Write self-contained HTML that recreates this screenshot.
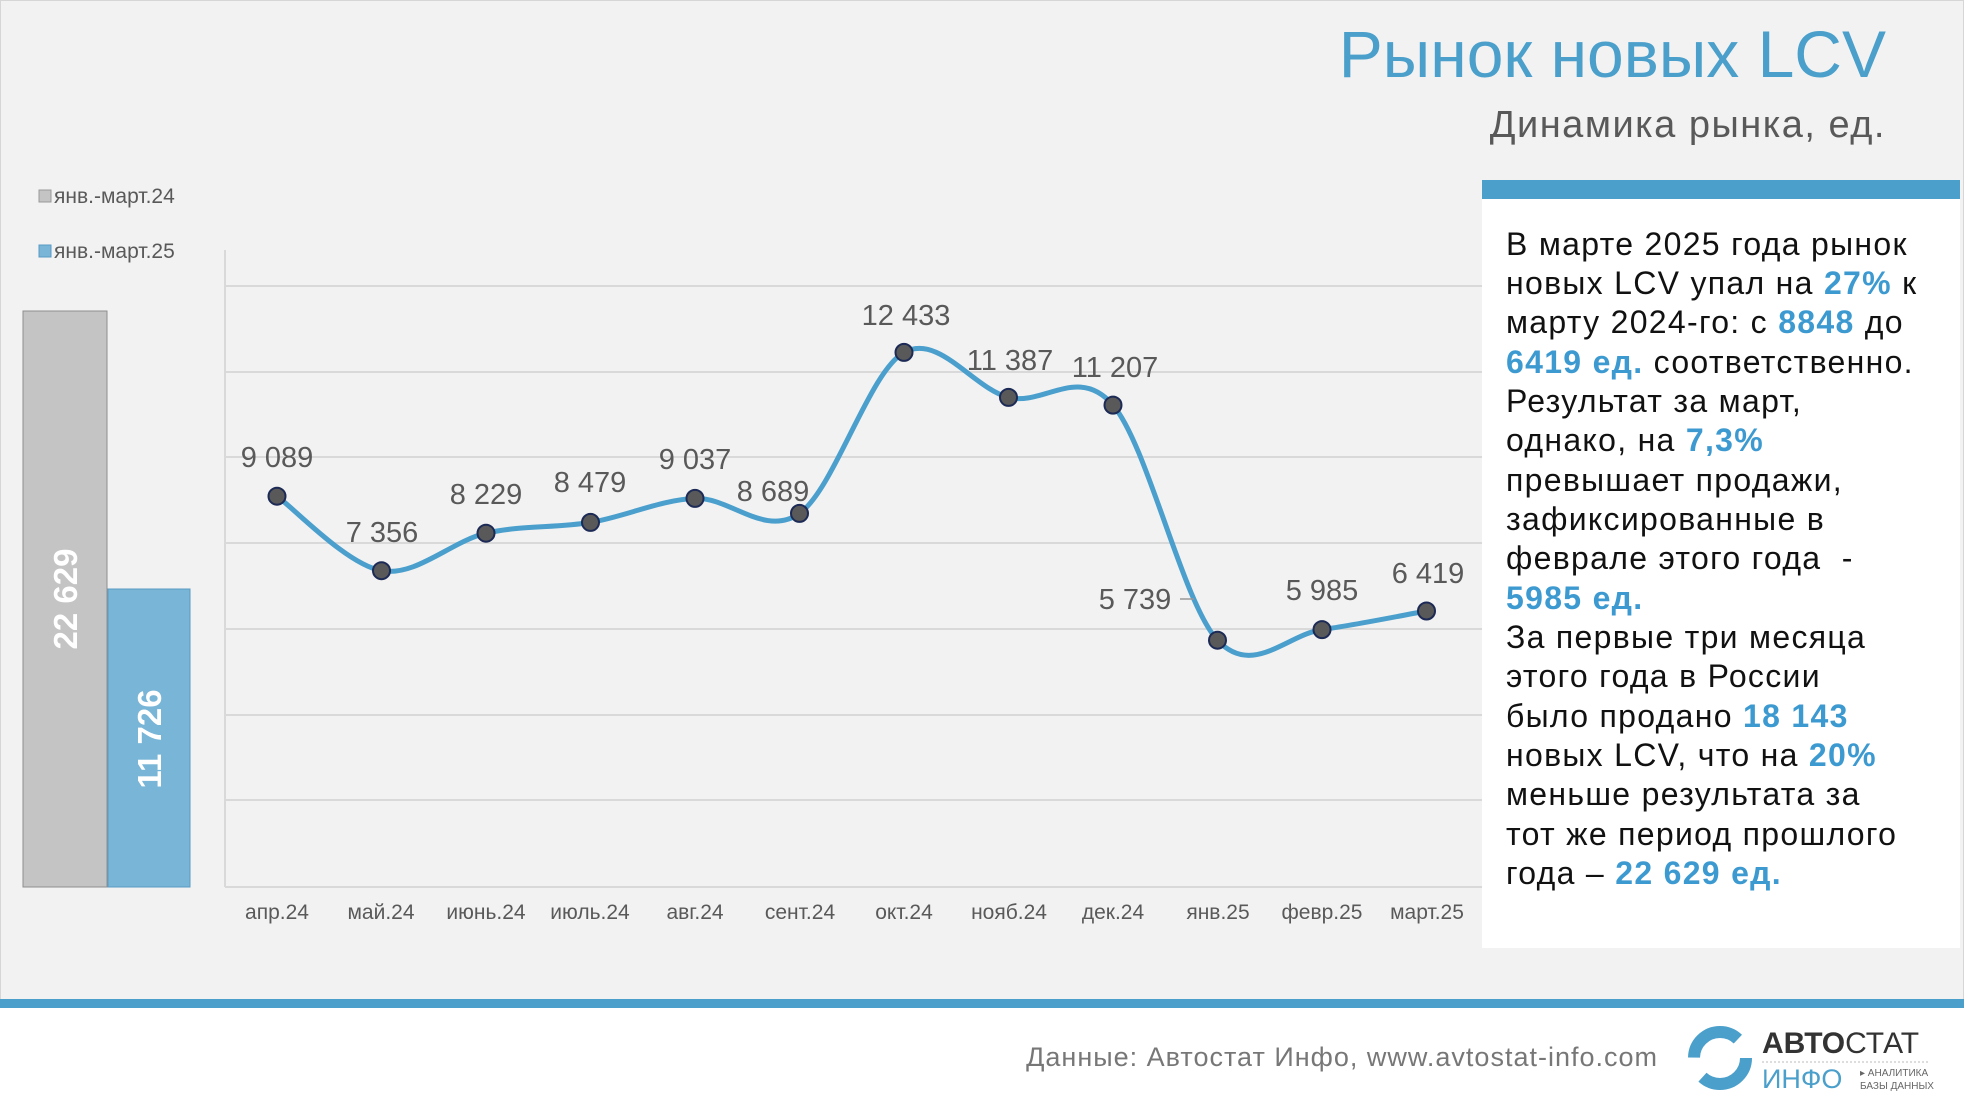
<!DOCTYPE html>
<html><head><meta charset="utf-8">
<style>
html,body{margin:0;padding:0;}
body{width:1964px;height:1112px;position:relative;background:#f2f2f2;font-family:"Liberation Sans","DejaVu Sans",sans-serif;overflow:hidden;}
.box{position:absolute;left:1482px;top:199px;width:478px;height:749px;background:#fff;}
.band{position:absolute;left:1482px;top:180px;width:478px;height:19px;background:#4a9fcb;}
.t{position:absolute;left:1506px;font-size:32px;letter-spacing:1.3px;color:#111;white-space:nowrap;line-height:1;}
.t b{color:#3d9ad1;}
.footer{position:absolute;left:0;top:1008px;width:1964px;height:104px;background:#fff;}
.fline{position:absolute;left:0;top:999px;width:1964px;height:9px;background:#4a9fcb;}
</style></head><body>
<div style="position:absolute;left:0;top:0;width:1962px;height:1110px;border:1px solid #d6d6d6;"></div>
<div style="position:absolute;right:78px;top:16px;font-size:66px;color:#4a9fcb;white-space:nowrap;">Рынок новых LCV</div>
<div style="position:absolute;right:78px;top:104px;font-size:38px;letter-spacing:1.5px;color:#595959;white-space:nowrap;">Динамика рынка, ед.</div>
<div class="band"></div>
<div class="box"></div>
<div class="t" style="top:228px">В марте 2025 года рынок</div>
<div class="t" style="top:267px">новых LCV упал на <b>27%</b> к</div>
<div class="t" style="top:306px">марту 2024-го: с <b>8848</b> до</div>
<div class="t" style="top:346px"><b>6419 ед.</b> соответственно.</div>
<div class="t" style="top:385px">Результат за март,</div>
<div class="t" style="top:424px">однако, на <b>7,3%</b></div>
<div class="t" style="top:464px">превышает продажи,</div>
<div class="t" style="top:503px">зафиксированные в</div>
<div class="t" style="top:542px">феврале этого года&nbsp; -</div>
<div class="t" style="top:582px"><b>5985 ед.</b></div>
<div class="t" style="top:621px">За первые три месяца</div>
<div class="t" style="top:660px">этого года в России</div>
<div class="t" style="top:700px">было продано <b>18 143</b></div>
<div class="t" style="top:739px">новых LCV, что на <b>20%</b></div>
<div class="t" style="top:778px">меньше результата за</div>
<div class="t" style="top:818px">тот же период прошлого</div>
<div class="t" style="top:857px">года – <b>22 629 ед.</b></div>
<div class="fline"></div>
<div class="footer"></div>
<div style="position:absolute;right:306px;top:1042px;font-size:27px;letter-spacing:1px;color:#777;white-space:nowrap;">Данные: Автостат Инфо, www.avtostat-info.com</div>
<svg style="position:absolute;left:0;top:0" width="1964" height="1112">
 <circle cx="1720" cy="1058" r="26" fill="none" stroke="#4a9fcb" stroke-width="12" stroke-dasharray="60 22"/>
 <text x="1762" y="1053" font-size="30" font-weight="bold" fill="#333" font-family="Liberation Sans">АВТО<tspan font-weight="normal">СТАТ</tspan></text>
 <line x1="1762" y1="1062" x2="1930" y2="1062" stroke="#bbb" stroke-dasharray="2 2"/>
 <text x="1762" y="1088" font-size="27" fill="#4a9fcb" font-family="Liberation Sans">ИНФО</text>
 <text x="1860" y="1076" font-size="10" fill="#666" font-family="Liberation Sans">▸ АНАЛИТИКА</text>
 <text x="1860" y="1089" font-size="10" fill="#666" font-family="Liberation Sans">БАЗЫ ДАННЫХ</text>

 <g font-family="Liberation Sans" fill="#595959">
  <rect x="39" y="190" width="12" height="12" fill="#c4c4c4" stroke="#999"/>
  <text x="54" y="203" font-size="21">янв.-март.24</text>
  <rect x="39" y="245" width="12" height="12" fill="#78b5d6" stroke="#5a9cc4"/>
  <text x="54" y="258" font-size="21">янв.-март.25</text>
 </g>
 <rect x="23" y="311" width="84" height="576" fill="#c4c4c4" stroke="#8e8e8e" stroke-width="1"/>
 <rect x="108" y="589" width="82" height="298" fill="#78b5d6" stroke="#5a9cc4" stroke-width="1"/>
 <text transform="translate(77,599) rotate(-90)" text-anchor="middle" font-size="33" font-weight="bold" fill="#fff" font-family="Liberation Sans">22 629</text>
 <text transform="translate(161,739) rotate(-90)" text-anchor="middle" font-size="33" font-weight="bold" fill="#fff" font-family="Liberation Sans">11 726</text>

 <g stroke="#d9d9d9" stroke-width="2">
  <line x1="225" y1="286" x2="1482" y2="286"/>
  <line x1="225" y1="372" x2="1482" y2="372"/>
  <line x1="225" y1="457" x2="1482" y2="457"/>
  <line x1="225" y1="543" x2="1482" y2="543"/>
  <line x1="225" y1="629" x2="1482" y2="629"/>
  <line x1="225" y1="715" x2="1482" y2="715"/>
  <line x1="225" y1="800" x2="1482" y2="800"/>
  <line x1="225" y1="887" x2="1482" y2="887"/>
  <line x1="225" y1="250" x2="225" y2="887"/>
 </g>
 <path d="M277,496.2 C294.4,508.6 346.7,564.5 381.5,570.7 C416.3,576.9 451.2,541.3 486,533.2 C520.8,525.2 555.7,528.2 590.5,522.4 C625.3,516.6 660.2,499.9 695,498.4 C729.8,496.9 764.7,537.7 799.5,513.4 C834.3,489.1 869.2,371.7 904,352.4 C938.8,333.1 973.7,388.6 1008.5,397.4 C1043.3,406.2 1078.2,364.6 1113,405.1 C1147.8,445.6 1182.7,602.8 1217.5,640.2 C1252.3,677.6 1287.2,634.5 1322,629.6 C1356.8,624.7 1409.1,614.1 1426.5,611" fill="none" stroke="#4a9fcd" stroke-width="5"/>
 <g fill="#595959" stroke="#1c2a55" stroke-width="2">
  <circle cx="277" cy="496.2" r="8.5"/><circle cx="381.5" cy="570.7" r="8.5"/><circle cx="486" cy="533.2" r="8.5"/>
  <circle cx="590.5" cy="522.4" r="8.5"/><circle cx="695" cy="498.4" r="8.5"/><circle cx="799.5" cy="513.4" r="8.5"/>
  <circle cx="904" cy="352.4" r="8.5"/><circle cx="1008.5" cy="397.4" r="8.5"/><circle cx="1113" cy="405.1" r="8.5"/>
  <circle cx="1217.5" cy="640.2" r="8.5"/><circle cx="1322" cy="629.6" r="8.5"/><circle cx="1426.5" cy="611" r="8.5"/>
 </g>
 <g font-family="Liberation Sans" font-size="29" fill="#595959" text-anchor="middle">
  <text x="277" y="467">9 089</text><text x="382" y="542">7 356</text><text x="486" y="504">8 229</text>
  <text x="590" y="492">8 479</text><text x="695" y="469">9 037</text><text x="773" y="501">8 689</text>
  <text x="906" y="325">12 433</text><text x="1010" y="370">11 387</text><text x="1115" y="377">11 207</text>
  <text x="1135" y="609">5 739</text><text x="1322" y="600">5 985</text><text x="1428" y="583">6 419</text>
 </g>
 <line x1="1180" y1="599" x2="1194" y2="599" stroke="#999" stroke-width="1.5"/>
 <g font-family="Liberation Sans" font-size="21" fill="#595959" text-anchor="middle">
  <text x="277" y="919">апр.24</text><text x="381" y="919">май.24</text><text x="486" y="919">июнь.24</text>
  <text x="590" y="919">июль.24</text><text x="695" y="919">авг.24</text><text x="800" y="919">сент.24</text>
  <text x="904" y="919">окт.24</text><text x="1009" y="919">нояб.24</text><text x="1113" y="919">дек.24</text>
  <text x="1218" y="919">янв.25</text><text x="1322" y="919">февр.25</text><text x="1427" y="919">март.25</text>
 </g>
</svg>
</body></html>
